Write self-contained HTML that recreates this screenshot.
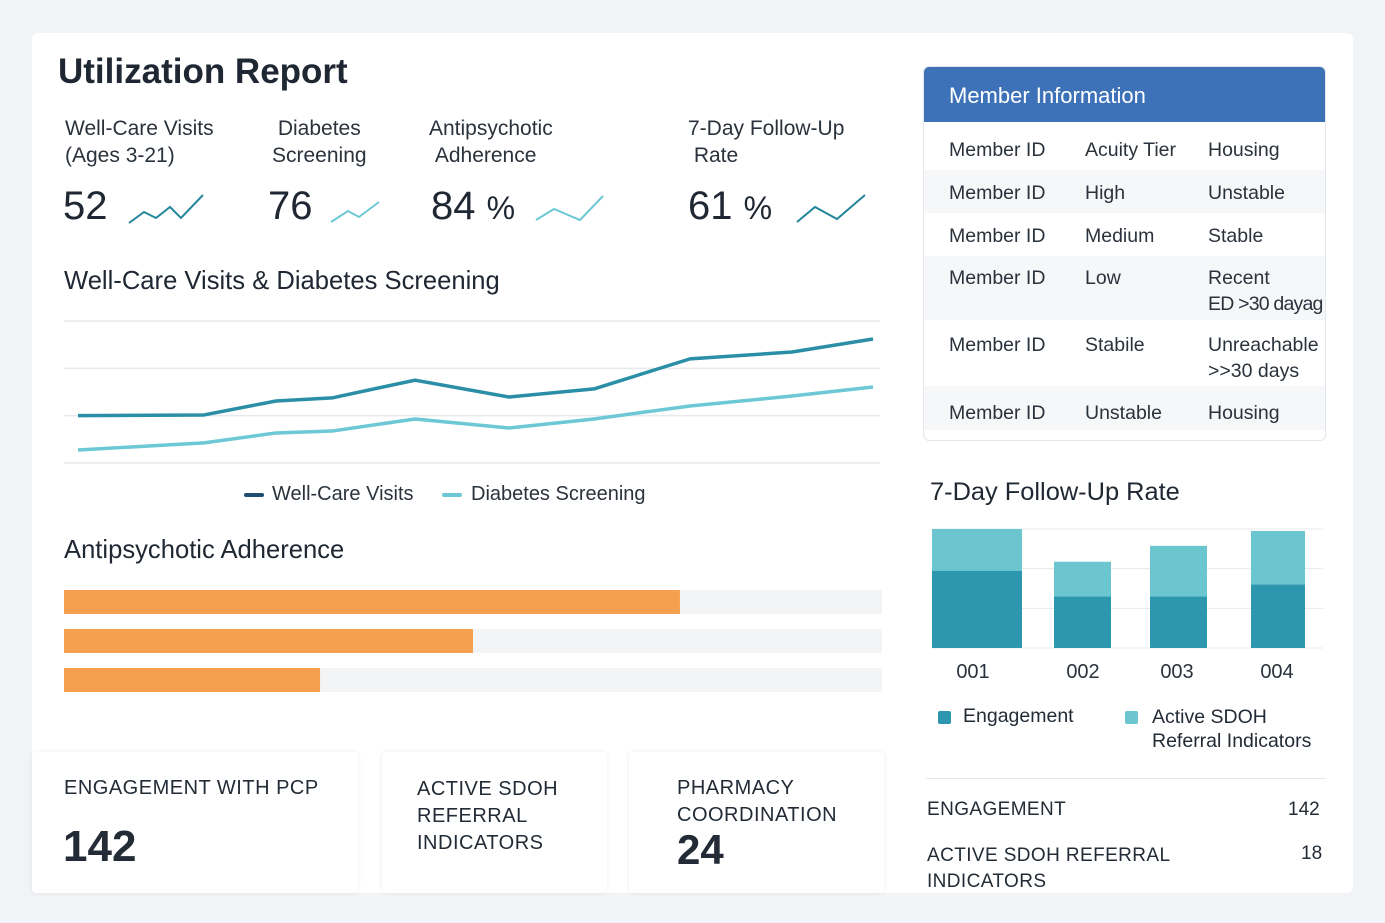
<!DOCTYPE html>
<html><head><meta charset="utf-8">
<style>
*{box-sizing:border-box;margin:0;padding:0}
body{width:1385px;height:923px;background:#f1f3f7;font-family:"Liberation Sans",sans-serif;color:#222b36;position:relative;overflow:hidden}
.abs{position:absolute}
.card{background:#fff}
.t{position:absolute;white-space:nowrap}
</style></head><body>
<div class="abs card" style="left:32px;top:33px;width:1321px;height:860px;border-radius:6px"></div>
<div class="t" style="left:58px;top:52px;font-size:35px;font-weight:bold;color:#1f2733">Utilization Report</div>

<div class="t" style="left:65px;top:115px;font-size:21px;line-height:27px;color:#2a323c">Well-Care Visits<br>(Ages 3-21)</div>
<div class="t" style="left:272px;top:115px;font-size:21px;line-height:27px;color:#2a323c">&nbsp;Diabetes<br>Screening</div>
<div class="t" style="left:429px;top:115px;font-size:21px;line-height:27px;color:#2a323c">Antipsychotic<br>&nbsp;Adherence</div>
<div class="t" style="left:688px;top:115px;font-size:21px;line-height:27px;color:#2a323c">7-Day Follow-Up<br>&nbsp;Rate</div>
<div class="t" style="left:63px;top:184px;font-size:40px;color:#1f2733">52</div>
<div class="t" style="left:268px;top:184px;font-size:40px;color:#1f2733">76</div>
<div class="t" style="left:431px;top:184px;font-size:40px;color:#1f2733">84 <span style="font-size:32px">%</span></div>
<div class="t" style="left:688px;top:184px;font-size:40px;color:#1f2733">61 <span style="font-size:32px">%</span></div>
<svg class="abs" style="left:0;top:0" width="1385" height="923">
<polyline points="129,223 144,212 156,218 170,207 181,218 203,195" fill="none" stroke="#23869a" stroke-width="2"/>
<polyline points="331,222 348,211 359,217 379,202" fill="none" stroke="#6cc8d4" stroke-width="2"/>
<polyline points="536,220 554,209 580,220 603,196" fill="none" stroke="#6cc8d4" stroke-width="2"/>
<polyline points="797,222 815,207 837,219 865,195" fill="none" stroke="#23869a" stroke-width="2"/>
</svg>

<div class="t" style="left:64px;top:267px;font-size:25.6px;color:#1f2733">Well-Care Visits &amp; Diabetes Screening</div>
<svg id="lc" class="abs" style="left:0;top:0" width="1385" height="923"></svg>
<div class="abs" style="left:244px;top:493px;width:20px;height:4px;background:#1f4e6e;border-radius:2px"></div>
<div class="t" style="left:272px;top:483px;font-size:20px;color:#2a323c">Well-Care Visits</div>
<div class="abs" style="left:442px;top:493px;width:20px;height:4px;background:#6cc8d4;border-radius:2px"></div>
<div class="t" style="left:471px;top:483px;font-size:20px;color:#2a323c">Diabetes Screening</div>

<div class="t" style="left:64px;top:536px;font-size:25.6px;color:#1f2733">Antipsychotic Adherence</div>
<svg id="hb" class="abs" style="left:0;top:0" width="1385" height="923"></svg>

<div class="abs" style="left:32px;top:752px;width:326px;height:141px;background:#fff;box-shadow:0 0 4px rgba(0,0,0,0.08);border-radius:4px"></div>
<div class="t" style="left:64px;top:777px;font-size:20px;letter-spacing:0.5px">ENGAGEMENT WITH PCP</div>
<div class="t" style="left:63px;top:822px;font-size:44px;font-weight:bold">142</div>
<div class="abs" style="left:382px;top:752px;width:225px;height:141px;background:#fff;box-shadow:0 0 4px rgba(0,0,0,0.08);border-radius:4px"></div>
<div class="t" style="left:417px;top:776px;font-size:20px;line-height:27px;letter-spacing:0.5px">ACTIVE SDOH<br>REFERRAL<br>INDICATORS</div>
<div class="abs" style="left:629px;top:752px;width:255px;height:141px;background:#fff;box-shadow:0 0 4px rgba(0,0,0,0.08);border-radius:4px"></div>
<div class="t" style="left:677px;top:775px;font-size:20px;line-height:27px;letter-spacing:0.5px">PHARMACY<br>COORDINATION</div>
<div class="t" style="left:677px;top:826px;font-size:42px;font-weight:bold">24</div>

<div class="abs" style="left:923px;top:66px;width:403px;height:375px;background:#fff;border:1px solid #e3e7ec;border-radius:6px;overflow:hidden">
<div style="height:55px;background:#3d72b8;color:#fff;font-size:22px;padding:16px 0 0 25px">Member Information</div>
</div>
<div id="mt"></div>

<div class="t" style="left:930px;top:478px;font-size:25.4px;color:#1f2733">7-Day Follow-Up Rate</div>
<svg id="bc" class="abs" style="left:0;top:0" width="1385" height="923"></svg>
<div class="abs" style="left:938px;top:711px;width:13px;height:13px;background:#2e97b0;border-radius:2px"></div>
<div class="t" style="left:963px;top:705px;font-size:19.5px">Engagement</div>
<div class="abs" style="left:1125px;top:711px;width:13px;height:13px;background:#6cc6d0;border-radius:2px"></div>
<div class="t" style="left:1152px;top:705px;font-size:19.5px;line-height:24px">Active SDOH<br>Referral Indicators</div>

<div class="abs" style="left:926px;top:778px;width:400px;height:1px;background:#e3e7ec"></div>
<div class="t" style="left:927px;top:799px;font-size:19px;letter-spacing:0.4px">ENGAGEMENT</div>
<div class="t" style="left:1288px;top:799px;font-size:19px">142</div>
<div class="t" style="left:927px;top:843px;font-size:19px;line-height:26px;letter-spacing:0.4px">ACTIVE SDOH REFERRAL<br>INDICATORS</div>
<div class="t" style="left:1301px;top:843px;font-size:19px">18</div>

<script>
const NS='http://www.w3.org/2000/svg';
const lineX=[0,1,2,3,4,5,6,7,8,9];
const wellCare=[20,20.3,26.2,27.5,35,27.9,31.3,44,46.9,52.4];
const diabetes=[5.5,8.5,12.7,13.5,18.6,14.8,18.6,24.1,28.3,32.1];
const lineTicks=[0,20,40,60];
const xPos=[78,204,276,332,415,509,594,690,792,873];
const adherence=[75.3,50,31.3];
const fuCats=['001','002','003','004'];
const fuEngagement=[78,52,52,64];
const fuSdoh=[42,35,51,54];
const fuTicks=[0,40,80,120];

function mk(parent,tag,attrs){const e=document.createElementNS(NS,tag);for(const k in attrs)e.setAttribute(k,attrs[k]);parent.appendChild(e);return e;}

const lc=document.getElementById('lc');
const ly=v=>463-v/60*142;
const lx=i=>xPos[i];
lineTicks.forEach(t=>{const g=mk(lc,'line',{x1:64,x2:880,y1:ly(t),y2:ly(t),stroke:'#e6e9ed','stroke-width':1.5});

});
[[diabetes,'#6cc8d4','diabetes-line'],[wellCare,'#2a8fa6','well-care-line']].forEach(([s,c,n])=>{
const p=mk(lc,'polyline',{points:s.map((v,i)=>lx(lineX[i])+','+ly(v)).join(' '),fill:'none',stroke:c,'stroke-width':3.5,'stroke-linejoin':'round'});

});

const hb=document.getElementById('hb');
const hw=v=>v/100*818;
adherence.forEach((v,i)=>{const y=590+i*39;
const tr=mk(hb,'rect',{x:64,y:y,width:818,height:24,fill:'#f3f4f6'});


const b=mk(hb,'rect',{x:64,y:y,width:hw(v),height:24,fill:'#f4a04e'});

});

const bc=document.getElementById('bc');
const by=v=>648-v/120*119;
const bxs=[932,1054,1150,1251],bws=[90,57,57,54];
fuTicks.forEach(t=>{const g=mk(bc,'line',{x1:932,x2:1323,y1:by(t),y2:by(t),stroke:'#e6e9ed','stroke-width':1});

});
fuCats.forEach((c,i)=>{
const e=fuEngagement[i],s=fuSdoh[i];
const r1=mk(bc,'rect',{x:bxs[i],y:by(e),width:bws[i],height:by(0)-by(e),fill:'#2e97b0'});


const r2=mk(bc,'rect',{x:bxs[i],y:by(e+s),width:bws[i],height:by(e)-by(e+s),fill:'#6cc6d0'});


const t=mk(bc,'text',{x:[973,1083,1177,1277][i],y:678,'text-anchor':'middle','font-size':20,fill:'#2a323c','font-family':'Liberation Sans'});
t.textContent=c;

});

const rows=[['Member ID','Acuity Tier','Housing',149],['Member ID','High','Unstable',192],['Member ID','Medium','Stable',235],['Member ID','Low','Recent<br><span style="letter-spacing:-0.8px">ED &gt;30 dayag</span>',277],['Member ID','Stabile','Unreachable<br>&gt;&gt;30 days',344],['Member ID','Unstable','Housing',412]];
const mt=document.getElementById('mt');
const bands=[[170,213],[256,320],[386,430]];
bands.forEach(b=>{const d=document.createElement('div');d.className='abs';d.style.cssText=`left:924px;top:${b[0]}px;width:401px;height:${b[1]-b[0]}px;background:#f6f7f9`;


mt.appendChild(d);});
rows.forEach((r,i)=>{[949,1085,1208].forEach((x,j)=>{const d=document.createElement('div');d.className='t';d.style.cssText=`left:${x}px;top:${r[3]-12}px;font-size:19.5px;line-height:26px;color:#2a323c`;d.innerHTML=r[j];


mt.appendChild(d);});});
</script>
</body></html>
